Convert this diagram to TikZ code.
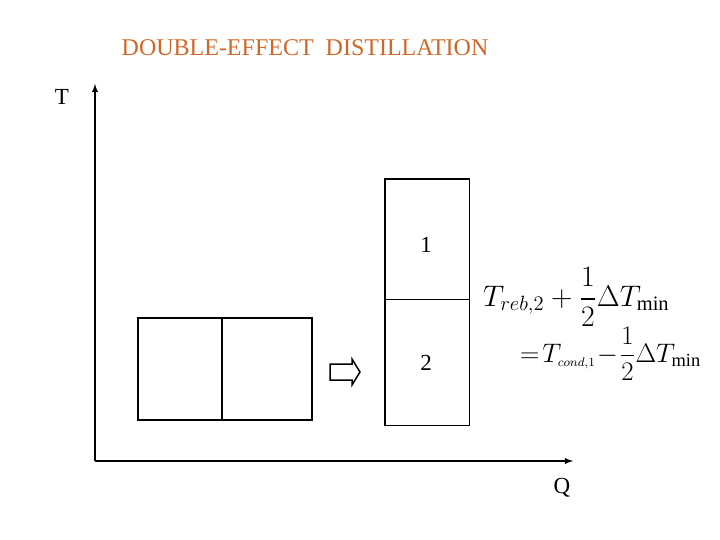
\documentclass[tikz,border=0pt]{standalone}
\usepackage{amsmath}
\usepackage{graphicx}
\usepackage{fontspec}
\setmainfont{Liberation Serif}
\usepackage{tikz}
\usetikzlibrary{arrows,positioning}
\definecolor{title-orange}{RGB}{206,104,40}
\tikzstyle{column}=[draw, line width=1.5pt, minimum width=84.5pt, inner sep=0pt]
\tikzstyle{label}=[font=\fontsize{23}{27}\selectfont, inner sep=0pt]
\tikzstyle{axis}=[line width=1.8pt, -latex]
\tikzstyle{condition}=[font=\fontsize{17}{20}\selectfont, anchor=west, inner sep=0pt]

\begin{document}
\begin{tikzpicture}[x=1pt,y=-1pt]
	\useasboundingbox (0,0) rectangle (720,540);
	\node[label, font=\fontsize{24}{28}\selectfont, text=title-orange] (title) at (305,48) {DOUBLE-EFFECT\ \ DISTILLATION};
	% axes
	\coordinate (O) at (95,461);
	\coordinate (Ttip) at (95,84);
	\coordinate (Qtip) at (573,461);
	\draw[axis] (O) -- (Ttip);
	\draw[axis] (O) -- (Qtip);
	\node[label] (Tlab) at (62,97) {T};
	\node[label] (Qlab) at (562,488) {Q};
	% single column
	\node[column, minimum width=84pt, minimum height=102pt] (left) at (180,369) {};
	\node[column, minimum width=90pt, minimum height=102pt, right=-1.5pt of left] (right) {};
	% two columns in series
	\node[column, minimum height=120pt, anchor=south west] (col1) at (384,300) {};
	\node[column, minimum height=126pt, below=-1.5pt of col1] (col2) {};
	\node[label] at (426,245) {1};
	\node[label] at (426,363) {2};
	\draw[line width=1.5pt] (330,364) -- (352,364) -- (352,359) -- (360,372) -- (352,385) -- (352,380) -- (330,380) -- cycle;
	% temperature condition
	\node[condition] (eq1) at (483,297)
		{\scalebox{1.72}{$\displaystyle T_{reb,2}+\frac{1}{2}\Delta T_{\mathrm{min}}$}};
	\node[condition] (eq2) at (520,354)
		{\scalebox{1.55}{$\displaystyle =\!T_{\scriptscriptstyle cond,1}\!-\!\frac{1}{2}\Delta T_{\mathrm{min}}$}};
\end{tikzpicture}
\end{document}
